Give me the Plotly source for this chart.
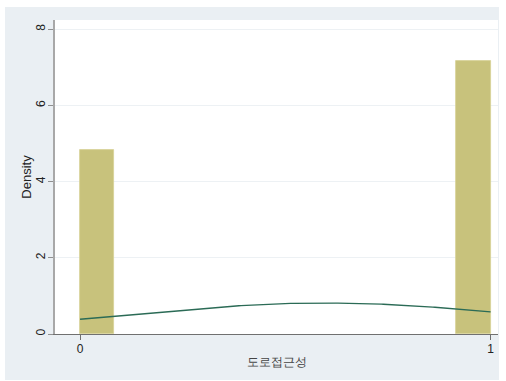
import numpy as np
import plotly.graph_objects as go

# Histogram of a 0/1 variable (12 bins over [0, 1]) with a normal density overlay
bin_left = [0.0, 11 / 12]
density = [4.83, 7.17]
bin_width = 1 / 12
x_ticks = [0, 1]
y_ticks = [0, 2, 4, 6, 8]
x_title = "도로접근성"
y_title = "Density"

# Normal curve using the mean and sd implied by the bar densities
share = np.array(density) * bin_width
values = np.array([0.0, 1.0])
mu = float((share * values).sum())
sd = float(np.sqrt((share * (values - mu) ** 2).sum()))
xs = np.linspace(0, 1, 200)
ys = np.exp(-0.5 * ((xs - mu) / sd) ** 2) / (sd * np.sqrt(2 * np.pi))

fig = go.Figure()
fig.add_trace(go.Bar(
    x=[b + bin_width / 2 for b in bin_left],
    y=density,
    width=bin_width,
    marker=dict(color="#c8c27c", line=dict(color="#d6d196", width=0.8)),
    showlegend=False,
    hoverinfo="skip",
))
fig.add_trace(go.Scatter(
    x=xs, y=ys, mode="lines",
    line=dict(color="#2b6b56", width=1.3),
    showlegend=False, hoverinfo="skip",
))

# thin white border around the tinted graph region
pw, ph = 443, 314
def strip(x0, x1, y0, y1):
    return dict(type="rect", xref="paper", yref="paper",
                x0=(x0 - 55) / pw, x1=(x1 - 55) / pw,
                y0=(334 - y1) / ph, y1=(334 - y0) / ph,
                fillcolor="white", line=dict(width=0), layer="above")

font = "Liberation Sans, Arial, sans-serif"
fig.update_layout(
    width=506, height=381,
    margin=dict(l=55, r=8, t=20, b=47),
    paper_bgcolor="#eaeff3",
    plot_bgcolor="white",
    font=dict(family=font, size=12, color="#333333"),
    bargap=0,
    shapes=[
        strip(0, 506, 0, 7),
        strip(0, 5, 0, 381),
        strip(499, 506, 0, 381),
        strip(0, 506, 380, 381),
    ],
    xaxis=dict(
        range=[-0.061, 1.018],
        tickvals=x_ticks,
        ticks="outside", ticklen=5, tickcolor="#707070", tickwidth=1,
        showline=True, linecolor="#707070", linewidth=1,
        showgrid=False, zeroline=False,
        tickfont=dict(size=12, color="#222222"),
        ticklabelstandoff=-1,
        title=dict(text=x_title, font=dict(size=12, color="#444444"), standoff=2),
    ),
    yaxis=dict(
        range=[0, 8.24],
        tickvals=y_ticks,
        tickangle=-90,
        ticks="outside", ticklen=5, tickcolor="#909090", tickwidth=1,
        showline=True, linecolor="#a8a8a8", linewidth=1.5,
        showgrid=True, gridcolor="#edf1f4", gridwidth=1,
        zeroline=False,
        tickfont=dict(size=12, color="#222222"),
        ticklabelstandoff=-2,
        title=dict(text=y_title, font=dict(size=13, color="#222222"), standoff=0),
    ),
)

fig.write_html("out.html")
